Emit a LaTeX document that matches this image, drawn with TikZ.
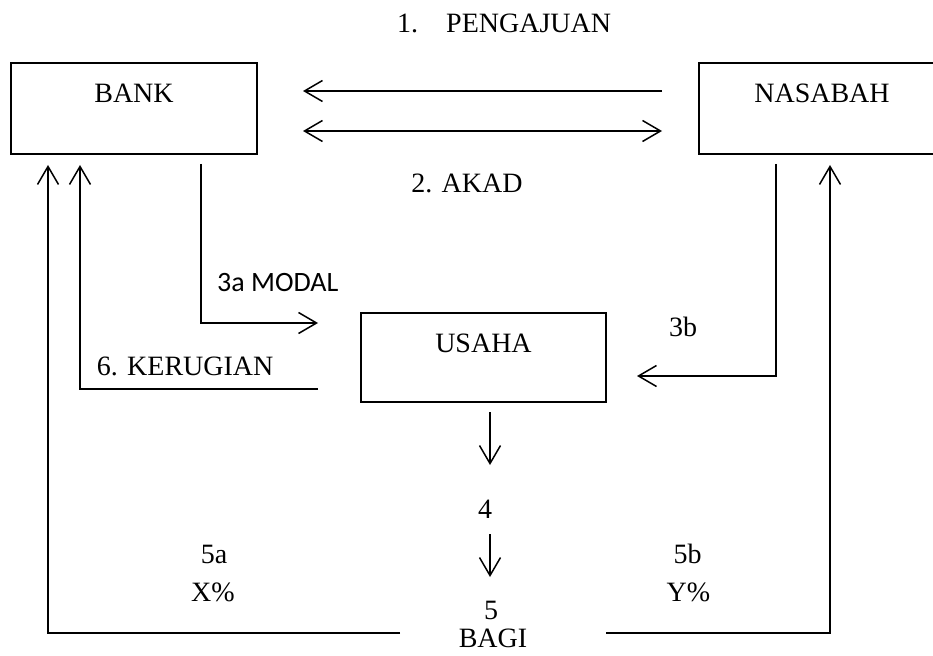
\documentclass[tikz,border=0pt]{standalone}
\usepackage{fontspec}
\setmainfont{Liberation Serif}
\newfontfamily\calibrifont{Carlito}
\usetikzlibrary{arrows.meta}
\begin{document}
\begin{tikzpicture}[x=1pt,y=-1pt,
  box/.style={draw, line width=2pt, inner sep=0pt, font=\fontsize{28}{30}\selectfont, text height=18pt},
  lbl/.style={inner sep=0pt, font=\fontsize{28}{30}\selectfont},
  conn/.style={line width=1.5pt},
  thinconn/.style={line width=1.2pt},
  tip/.style={-{Straight Barb[length=18pt,width=21pt,line width=1.5pt]}},
  bitip/.style={{Straight Barb[length=18pt,width=21pt,line width=1.5pt]}-{Straight Barb[length=18pt,width=21pt,line width=1.5pt]}}
]
\useasboundingbox (0,0) rectangle (933,655);
\begin{scope}
\clip (0,0) rectangle (933,655);
\node[box, minimum width=246pt, minimum height=91pt, text depth=30pt] (nasabah) at (822,108.5) {NASABAH};
\end{scope}

% boxes
\node[box, minimum width=246pt, minimum height=91pt, text depth=30pt] (bank) at (134,108.5) {BANK};
\node[box, minimum width=245pt, minimum height=89pt, text depth=28.4pt] (usaha) at (483.5,357.5) {USAHA};

% connector end points
\coordinate (a1s) at (662,91);
\coordinate (a1e) at (303,91);
\coordinate (a2s) at (303,131);
\coordinate (a2e) at (662,131);
\coordinate (m0) at (201,164);
\coordinate (m1) at (201,323);
\coordinate (m2) at (318,323);
\coordinate (b0) at (776,164);
\coordinate (b1) at (776,376);
\coordinate (b2) at (637,376);
\coordinate (k0) at (318,389);
\coordinate (k1) at (80,389);
\coordinate (k2) at (80,165);
\coordinate (u0) at (490,412);
\coordinate (u1) at (490,465);
\coordinate (v0) at (490,534);
\coordinate (v1) at (490,577);
\coordinate (x0) at (400,633);
\coordinate (x1) at (48,633);
\coordinate (x2) at (48,165);
\coordinate (y0) at (606,633);
\coordinate (y1) at (830,633);
\coordinate (y2) at (830,165);

% connectors
\draw[conn, tip] (a1s) -- (a1e);
\draw[conn, bitip] (a2s) -- (a2e);
\draw[thinconn, tip] (m0) -- (m1) -- (m2);
\draw[thinconn, tip] (b0) -- (b1) -- (b2);
\draw[thinconn, tip] (k0) -- (k1) -- (k2);
\draw[conn, tip] (u0) -- (u1);
\draw[conn, tip] (v0) -- (v1);
\draw[conn, tip] (x0) -- (x1) -- (x2);
\draw[conn, tip] (y0) -- (y1) -- (y2);

% labels
\node[lbl, anchor=base west] (t1) at (397,32.3) {1.\hspace{28pt}PENGAJUAN};
\node[lbl, anchor=base] (t2) at (467,192) {2. AKAD};
\node[lbl, anchor=base west, font=\calibrifont\fontsize{28}{30}\selectfont] (t3a) at (217,291.7) {3a MODAL};
\node[lbl, anchor=base] (t3b) at (683,336.5) {3b};
\node[lbl, anchor=base west] (t6) at (96.7,375) {6. KERUGIAN};
\node[lbl, anchor=base] (t4) at (485,518) {4};
\node[lbl, anchor=base] (t5a) at (214,563) {5a};
\node[lbl, anchor=base] (tx) at (213,601.7) {X\%};
\node[lbl, anchor=base] (t5b) at (687.5,563) {5b};
\node[lbl, anchor=base] (ty) at (688.5,601.7) {Y\%};
\node[lbl, anchor=base] (t5) at (491,619) {5};
\node[lbl, anchor=base] (tbagi) at (493,647) {BAGI};
\end{tikzpicture}
\end{document}
